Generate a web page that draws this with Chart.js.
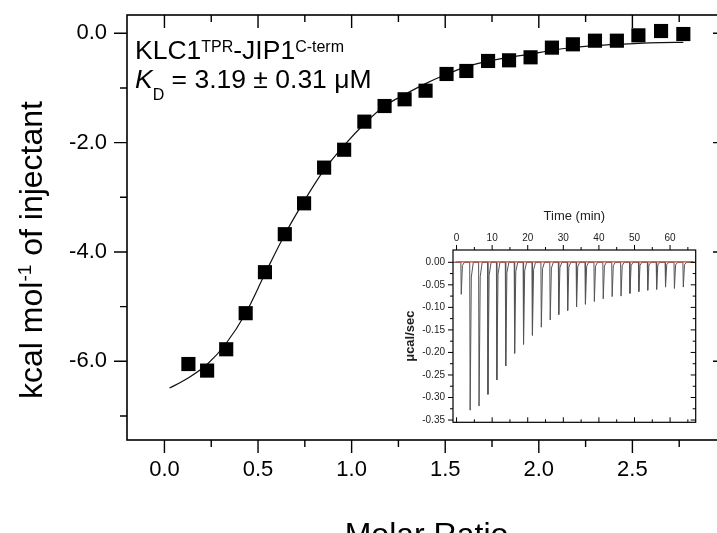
<!DOCTYPE html>
<html>
<head>
<meta charset="utf-8">
<script src="https://cdn.jsdelivr.net/npm/chart.js@4.4.0/dist/chart.umd.min.js"></script>
<style>
  html, body { margin: 0; padding: 0; background: #fff; overflow: hidden; width: 717px; height: 533px; }
  #main { position: absolute; left: 0; top: 0; }
  #inset { position: absolute; left: 395px; top: 200px; background: #fff; }
</style>
</head>
<body>
<canvas id="main" width="740" height="560"></canvas>
<canvas id="inset" width="315" height="235"></canvas>
<script>
// integrated heats (main plot)
const molarRatio = [0.128, 0.228, 0.33, 0.434, 0.537, 0.643, 0.746, 0.853, 0.96, 1.068, 1.176, 1.283, 1.395,
                    1.507, 1.613, 1.729, 1.841, 1.956, 2.07, 2.182, 2.3, 2.417, 2.532, 2.653, 2.772];
const heat = [-6.05, -6.17, -5.78, -5.12, -4.37, -3.675, -3.11, -2.457, -2.13, -1.616, -1.33, -1.207, -1.05,
              -0.744, -0.689, -0.506, -0.494, -0.439, -0.262, -0.201, -0.135, -0.135, -0.037, 0.042, -0.013];

// fitted curve
const fitRatio = [0.027, 0.12, 0.23, 0.33, 0.434, 0.537, 0.643, 0.746, 0.853, 0.96, 1.07, 1.176, 1.283,
                  1.395, 1.507, 1.613, 1.729, 1.841, 1.956, 2.07, 2.182, 2.3, 2.417, 2.532, 2.653, 2.772];
const fitHeat = [-6.49, -6.32, -6.05, -5.67, -5.12, -4.40, -3.68, -3.07, -2.50, -2.05, -1.65, -1.33, -1.12,
                 -0.92, -0.75, -0.61, -0.51, -0.44, -0.38, -0.31, -0.26, -0.226, -0.202, -0.183, -0.171, -0.165];

const xTicks = [0, 0.5, 1.0, 1.5, 2.0, 2.5];
const xMinor = [0.25, 0.75, 1.25, 1.75, 2.25, 2.75];
const yTicks = [0, -2, -4, -6];
const yMinor = [-1, -3, -5, -7];

// raw thermogram (inset): injection times (min) and peak minima (ucal/sec)
const peakTimes = [1.2, 3.7, 6.2, 8.7, 11.2, 13.7, 16.2, 18.7, 21.2, 23.7, 26.2, 28.6, 31.1,
                   33.6, 36.1, 38.6, 41.1, 43.6, 46.1, 48.6, 51.1, 53.6, 56.1, 58.6, 61.1, 63.6];
const peakDepths = [-0.071, -0.328, -0.319, -0.293, -0.261, -0.230, -0.202, -0.182, -0.162, -0.144, -0.128,
                    -0.116, -0.107, -0.099, -0.093, -0.087, -0.081, -0.076, -0.075, -0.069, -0.065, -0.062,
                    -0.060, -0.055, -0.058, -0.055];

const timeTicks = [0, 10, 20, 30, 40, 50, 60];
const timeMinor = [5, 15, 25, 35, 45, 55, 65];
const powerTicks = [0, -0.05, -0.10, -0.15, -0.20, -0.25, -0.30, -0.35];
const powerMinor = [-0.025, -0.075, -0.125, -0.175, -0.225, -0.275, -0.325];

const FONT = "'Liberation Sans', Arial, sans-serif";
Chart.defaults.font.family = FONT;
Chart.defaults.color = '#000';

// stop label paddings from pushing the plot area around
function noPad(s) {
  s.paddingTop = 0; s.paddingBottom = 0; s.paddingLeft = 0; s.paddingRight = 0;
}

// box frame + major/minor ticks on all four sides
const frameTicks = {
  id: 'frameTicks',
  afterDraw(chart, args, o) {
    const { ctx, chartArea: a, scales: { x, y } } = chart;
    ctx.save();
    ctx.strokeStyle = '#000';
    ctx.lineWidth = o.lineWidth;
    ctx.strokeRect(a.left, a.top, a.right - a.left, a.bottom - a.top);
    ctx.lineWidth = o.tickWidth;
    const xt = (vals, len) => vals.forEach(v => {
      const px = x.getPixelForValue(v);
      if (px < a.left || px > a.right) return;
      ctx.beginPath();
      if (o.xOut === 'bottom') {
        ctx.moveTo(px, a.bottom); ctx.lineTo(px, a.bottom + len);
        ctx.moveTo(px, a.top); ctx.lineTo(px, a.top + len);
      } else {
        ctx.moveTo(px, a.top); ctx.lineTo(px, a.top - len);
        ctx.moveTo(px, a.bottom); ctx.lineTo(px, a.bottom - len);
      }
      ctx.stroke();
    });
    const yt = (vals, len) => vals.forEach(v => {
      const py = y.getPixelForValue(v);
      if (py < a.top || py > a.bottom) return;
      ctx.beginPath();
      ctx.moveTo(a.left, py); ctx.lineTo(a.left - len, py);
      ctx.moveTo(a.right, py); ctx.lineTo(a.right - len, py);
      ctx.stroke();
    });
    xt(o.xMajor, o.major); xt(o.xMinor, o.minor);
    yt(o.yMajor, o.major); yt(o.yMinor, o.minor);
    ctx.restore();
  }
};

function drawRich(ctx, parts, x, y) {
  parts.forEach(p => {
    ctx.font = (p.italic ? 'italic ' : '') + p.size + 'px ' + FONT;
    ctx.fillText(p.t, x, y + (p.dy || 0));
    x += ctx.measureText(p.t).width;
  });
}
function richWidth(ctx, parts) {
  let w = 0;
  parts.forEach(p => {
    ctx.font = (p.italic ? 'italic ' : '') + p.size + 'px ' + FONT;
    w += ctx.measureText(p.t).width;
  });
  return w;
}

// annotation text and the y title (needs super/subscripts)
const notes = {
  id: 'notes',
  afterDraw(chart) {
    const ctx = chart.ctx;
    ctx.save();
    ctx.fillStyle = '#000';
    ctx.textBaseline = 'alphabetic';
    ctx.textAlign = 'left';
    drawRich(ctx, [
      { t: 'KLC1', size: 26.5 }, { t: 'TPR', size: 16, dy: -7.5 },
      { t: '-JIP1', size: 26.5 }, { t: 'C-term', size: 16, dy: -7.5 }
    ], 135, 59);
    drawRich(ctx, [
      { t: 'K', size: 26.5, italic: true }, { t: 'D', size: 16, dy: 12 },
      { t: ' = 3.19 \u00b1 0.31 \u03bcM', size: 26.5 }
    ], 135, 88);
    const title = [
      { t: 'kcal mol', size: 32 }, { t: '-1', size: 19, dy: -11 }, { t: ' of injectant', size: 32 }
    ];
    const w = richWidth(ctx, title);
    ctx.translate(42, 250);
    ctx.rotate(-Math.PI / 2);
    drawRich(ctx, title, -w / 2, 0);
    ctx.restore();
  }
};

new Chart(document.getElementById('main'), {
  type: 'scatter',
  data: {
    datasets: [
      {
        data: molarRatio.map((v, i) => ({ x: v, y: heat[i] })),
        pointStyle: 'rect', pointRadius: 10, pointHoverRadius: 10,
        backgroundColor: '#000', borderColor: '#000', borderWidth: 0
      },
      {
        data: fitRatio.map((v, i) => ({ x: v, y: fitHeat[i] })),
        showLine: true, pointRadius: 0, borderColor: '#111', borderWidth: 1.2,
        cubicInterpolationMode: 'monotone'
      }
    ]
  },
  options: {
    responsive: false, animation: false, devicePixelRatio: 1,
    layout: { padding: { top: 15, right: 14, left: 0, bottom: 0 } },
    plugins: {
      legend: { display: false }, tooltip: { enabled: false },
      frameTicks: { lineWidth: 1.6, tickWidth: 1.4, major: 13, minor: 7, xOut: 'bottom',
                    xMajor: xTicks, xMinor: xMinor, yMajor: yTicks, yMinor: yMinor }
    },
    scales: {
      x: {
        type: 'linear', position: 'bottom', min: -0.2, max: 3.0,
        afterFit: s => { s.height = 120; noPad(s); },
        afterBuildTicks: s => { s.ticks = xTicks.map(v => ({ value: v })); },
        grid: { display: false, drawTicks: false }, border: { display: false },
        ticks: { padding: 17, font: { size: 22 }, color: '#000', maxRotation: 0, autoSkip: false,
                 callback: v => v.toFixed(1) },
        title: { display: true, text: 'Molar Ratio', font: { size: 32 }, color: '#000', padding: { top: 0, bottom: 5 } }
      },
      y: {
        type: 'linear', position: 'left', min: -7.44, max: 0.335,
        afterFit: s => { s.width = 127; noPad(s); },
        afterBuildTicks: s => { s.ticks = yTicks.map(v => ({ value: v })); },
        grid: { display: false, drawTicks: false }, border: { display: false },
        ticks: { padding: 20, font: { size: 22 }, color: '#000', autoSkip: false,
                 callback: v => v.toFixed(1) }
      }
    }
  },
  plugins: [frameTicks, notes]
});

// inset: raw power trace built from the peak list (sharp drop, quick return)
const trace = [{ x: -1, y: 0 }];
peakTimes.forEach((t, i) => {
  trace.push({ x: t, y: 0 }, { x: t + 0.12, y: peakDepths[i] },
             { x: t + 0.45, y: peakDepths[i] * 0.1 }, { x: t + 1.0, y: 0 });
});
trace.push({ x: 67.2, y: 0 });

new Chart(document.getElementById('inset'), {
  type: 'scatter',
  data: {
    datasets: [
      { data: [{ x: -0.3, y: 0.001 }, { x: 66.5, y: 0.001 }], showLine: true, pointRadius: 0,
        borderColor: '#d0402c', borderWidth: 1.3 },
      { data: trace, showLine: true, pointRadius: 0, borderColor: '#555', borderWidth: 1 }
    ]
  },
  options: {
    responsive: false, animation: false, devicePixelRatio: 1,
    layout: { padding: { top: 0, right: 14.3, left: 0, bottom: 12.7 } },
    plugins: {
      legend: { display: false }, tooltip: { enabled: false },
      frameTicks: { lineWidth: 1.2, tickWidth: 1, major: 5, minor: 3, xOut: 'top',
                    xMajor: timeTicks, xMinor: timeMinor, yMajor: powerTicks, yMinor: powerMinor }
    },
    scales: {
      x: {
        type: 'linear', position: 'top', min: -1, max: 67.2,
        afterFit: s => { s.height = 50; noPad(s); },
        afterBuildTicks: s => { s.ticks = timeTicks.map(v => ({ value: v })); },
        grid: { display: false, drawTicks: false }, border: { display: false },
        ticks: { padding: 6, font: { size: 10 }, color: '#222', maxRotation: 0, autoSkip: false },
        title: { display: true, text: 'Time (min)', font: { size: 13 }, color: '#222', padding: { top: 9, bottom: 0 } }
      },
      y: {
        type: 'linear', position: 'left', min: -0.355, max: 0.0273,
        afterFit: s => { s.width = 58; noPad(s); },
        afterBuildTicks: s => { s.ticks = powerTicks.map(v => ({ value: v })); },
        grid: { display: false, drawTicks: false }, border: { display: false },
        ticks: { padding: 8, font: { size: 10 }, color: '#222', autoSkip: false,
                 callback: v => v.toFixed(2) },
        title: { display: true, text: '\u03bccal/sec', font: { size: 13, weight: 'bold' }, color: '#222',
                 padding: { top: 8, bottom: 0 } }
      }
    }
  },
  plugins: [frameTicks]
});
</script>
</body>
</html>
